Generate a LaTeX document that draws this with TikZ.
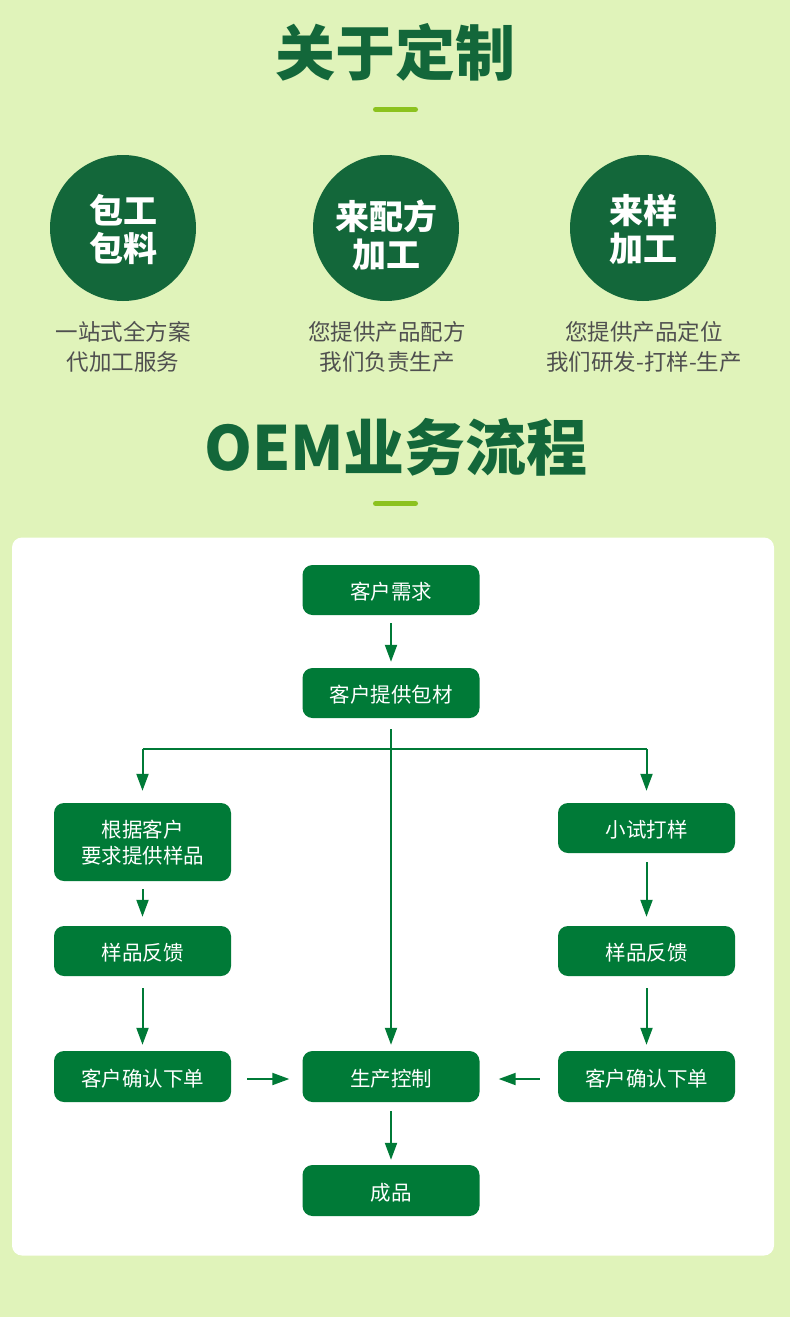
\documentclass[tikz,border=0pt]{standalone}
\usepackage{fontspec}
\setmainfont{Noto Sans CJK SC}
\usetikzlibrary{arrows.meta}
\definecolor{bgc}{HTML}{E0F3BA}
\definecolor{darkg}{HTML}{13673A}
\definecolor{boxg}{HTML}{007A37}
\definecolor{lime}{HTML}{8CC21E}
\definecolor{greytxt}{HTML}{4F4F4F}
\tikzset{
  flowbox/.style={rectangle, rounded corners=10pt, fill=boxg, text=white,
    minimum width=177pt, minimum height=50pt, inner sep=0pt, align=center,
    font=\fontsize{20.5}{26}\selectfont},
  boxtxt/.style={text=white, inner sep=0pt, align=center, font=\fontsize{20.5}{26}\selectfont},
  bigcirc/.style={circle, fill=darkg, minimum size=146pt, inner sep=0pt},
  circtxt/.style={text=white, inner sep=0pt, align=center, font=\fontsize{34}{38}\selectfont\bfseries},
  desc/.style={text=greytxt, align=center, inner sep=0pt, font=\fontsize{22.5}{29.5}\selectfont},
  headline/.style={text=darkg, inner sep=0pt, font=\fontsize{60}{60}\selectfont\bfseries},
  arr/.style={draw=boxg, line width=2pt, -{Triangle[length=17pt,width=12pt]}},
  plain/.style={draw=boxg, line width=2pt},
  limebar/.style={draw=lime, line width=5pt, line cap=round}
}
\begin{document}
\begin{tikzpicture}[x=1pt,y=-1pt]
\useasboundingbox (0,0) rectangle (790,1317);
\fill[bgc] (0,0) rectangle (790,1317);
% headings
\node[headline] (t1) at (395,52) {关于定制};
\draw[limebar] (375.5,109.5) -- (415.5,109.5);
\node[headline, font=\fontsize{61}{61}\selectfont\bfseries] (t2) at (396,447) {OEM业务流程};
\draw[limebar] (375.5,503.5) -- (415.5,503.5);
% circles
\node[bigcirc] (c1) at (123,228) {};
\node[bigcirc] (c2) at (386,228) {};
\node[bigcirc] (c3) at (643,228) {};
\node[circtxt] (c1t) at (123,229.5) {包工\\包料};
\node[circtxt] (c2t) at (386,235) {来配方\\加工};
\node[circtxt] (c3t) at (643,229.5) {来样\\加工};
\node[desc] (d1) at (123,347) {一站式全方案\\代加工服务};
\node[desc] (d2) at (387,347) {您提供产品配方\\我们负责生产};
\node[desc] (d3) at (644,347) {您提供产品定位\\我们研发-打样-生产};
% panel
\fill[white, rounded corners=10pt] (12,537.5) rectangle (774,1255.5);
% flow boxes
\node[flowbox] (need) at (391,590) {};
\node[flowbox] (pack) at (391,693) {};
\node[flowbox, minimum height=78pt] (lsamp) at (142.5,842) {};
\node[flowbox] (try) at (646.5,828) {};
\node[flowbox] (lfb) at (142.5,951) {};
\node[flowbox] (rfb) at (646.5,951) {};
\node[flowbox, minimum height=51pt] (lconf) at (142.5,1076.5) {};
\node[flowbox, minimum height=51pt] (prod) at (391,1076.5) {};
\node[flowbox, minimum height=51pt] (rconf) at (646.5,1076.5) {};
\node[flowbox, minimum height=51pt] (done) at (391,1190.5) {};
% box texts
\node[boxtxt] (needt) at ([yshift=-2pt]need.center) {客户需求};
\node[boxtxt] (packt) at ([yshift=-2pt]pack.center) {客户提供包材};
\node[boxtxt] (lsampt) at ([yshift=-1pt]lsamp.center) {根据客户\\要求提供样品};
\node[boxtxt] (tryt) at ([yshift=-2pt]try.center) {小试打样};
\node[boxtxt] (lfbt) at ([yshift=-2pt]lfb.center) {样品反馈};
\node[boxtxt] (rfbt) at ([yshift=-2pt]rfb.center) {样品反馈};
\node[boxtxt] (lconft) at ([yshift=-2pt]lconf.center) {客户确认下单};
\node[boxtxt] (prodt) at ([yshift=-2pt]prod.center) {生产控制};
\node[boxtxt] (rconft) at ([yshift=-2pt]rconf.center) {客户确认下单};
\node[boxtxt] (donet) at ([yshift=-2pt]done.center) {成品};
% connectors
\coordinate (jl) at (142.5,749);
\coordinate (jr) at (646.5,749);
\draw[arr, shorten <=8pt, shorten >=6pt] (need) -- (pack);
\draw[arr, shorten <=11pt, shorten >=6pt] (pack) -- (prod);
\draw[plain] (jl) -- (jr);
\draw[arr, shorten >=12pt] (jl) -- (lsamp);
\draw[arr, shorten >=12pt] (jr) -- (try);
\draw[arr, shorten <=8pt, shorten >=9pt] (lsamp) -- (lfb);
\draw[arr, shorten <=9pt, shorten >=9pt] (try) -- (rfb);
\draw[arr, shorten <=12pt, shorten >=6pt] (lfb) -- (lconf);
\draw[arr, shorten <=12pt, shorten >=6pt] (rfb) -- (rconf);
\draw[arr, shorten <=16pt, shorten >=13pt] ([yshift=-2.5pt]lconf.east) -- ([yshift=-2.5pt]prod.west);
\draw[arr, shorten <=18pt, shorten >=19pt] ([yshift=-2.5pt]rconf.west) -- ([yshift=-2.5pt]prod.east);
\draw[arr, shorten <=9pt, shorten >=5pt] (prod) -- (done);
\end{tikzpicture}
\end{document}
